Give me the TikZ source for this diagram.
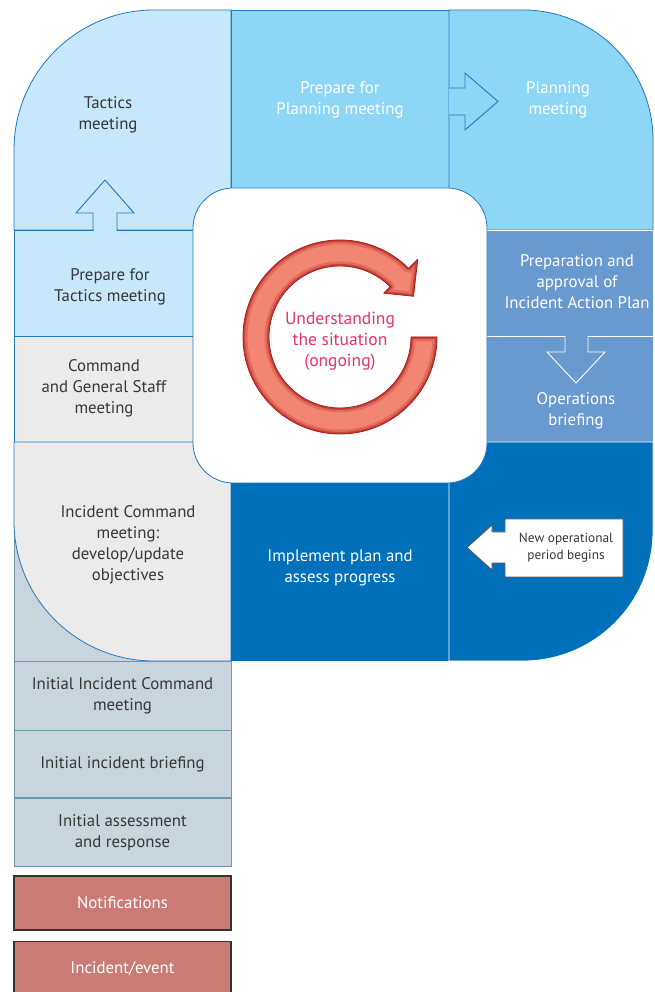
\documentclass[tikz,border=0pt]{standalone}
\usepackage{fontspec}
\setmainfont{PT Sans}
\usepackage{xcolor}
\usepackage{tikz}
\usetikzlibrary{positioning, calc}
\definecolor{edgeblue}{RGB}{35,120,190}
\definecolor{paleblue}{RGB}{198,232,250}
\definecolor{skyblue}{RGB}{142,214,246}
\definecolor{midblue}{RGB}{104,154,208}
\definecolor{deepblue}{RGB}{0,112,186}
\definecolor{lightgrey}{RGB}{235,235,235}
\definecolor{slategrey}{RGB}{200,213,220}
\definecolor{slateedge}{RGB}{110,150,170}
\definecolor{brick}{RGB}{202,123,115}
\definecolor{ringfill}{RGB}{242,134,114}
\definecolor{ringedge}{RGB}{175,30,30}
\definecolor{ringtext}{RGB}{232,52,102}
\definecolor{darktext}{RGB}{55,55,55}
\tikzstyle{darklabel} = [align=center, text=darktext, font=\fontsize{16.8}{21}\selectfont]
\tikzstyle{lightlabel} = [darklabel, text=white]
\tikzstyle{region} = [draw=edgeblue, line width=0.8pt]
\tikzstyle{initbox} = [rectangle, minimum width=217pt, text centered, draw=slateedge, fill=slategrey, line width=0.8pt, darklabel]
\tikzstyle{startstop} = [rectangle, minimum width=217pt, text centered, draw=black!80, fill=brick, line width=1.2pt, lightlabel]
\tikzstyle{blockarrow} = [line width=0.9pt, line join=miter]

\begin{document}
\begin{tikzpicture}[x=1pt, y=1pt]
\useasboundingbox (0,0) rectangle (654,992);

% lower column behind the rounded corner
\fill[slategrey] (14,331) rectangle (231,472);
\draw[slateedge, line width=0.8pt] (14,331) -- (14,472) (231,331) -- (231,472);

% the P: top row
\draw[region, fill=paleblue] (14,762) -- (14,842) arc[start angle=180, end angle=90, radius=140pt] -- (231,982) -- (231,762) -- cycle;
\draw[region, fill=skyblue] (231,762) rectangle (449,982);
\draw[region, fill=skyblue] (449,762) -- (449,982) -- (523,982) arc[start angle=90, end angle=0, radius=130pt] -- (653,762) -- cycle;
% middle rows
\draw[region, fill=paleblue] (14,656) rectangle (231,762);
\draw[region, fill=lightgrey] (14,550) rectangle (231,656);
\draw[draw=white, line width=0.8pt, fill=midblue] (449,656) rectangle (653,762);
\draw[draw=white, line width=0.8pt, fill=midblue] (449,550) rectangle (653,656);
% bottom row
\draw[region, fill=lightgrey] (14,550) -- (14,471) arc[start angle=180, end angle=270, radius=140pt] -- (231,331) -- (231,550) -- cycle;
\fill[deepblue] (231,331) rectangle (449,550);
\draw[draw=white, line width=0.8pt, fill=deepblue] (449,550) -- (449,331) -- (523,331) arc[start angle=270, end angle=360, radius=130pt] -- (653,550) -- cycle;

% centre
\draw[region, fill=white, rounded corners=40pt] (193,509) rectangle (487,804);

% block arrows on the dividing lines
\fill[paleblue] (93.5,760) -- (93.5,779) -- (105,800) -- (116.5,779) -- (116.5,760) -- cycle;
\draw[blockarrow, edgeblue] (93,762) -- (93,779) -- (76,779) -- (105,812) -- (134,779) -- (117,779) -- (117,762);
\draw[blockarrow, edgeblue, fill=skyblue] (449,904) -- (465,904) -- (465,919) -- (498,890.5) -- (465,862) -- (465,877) -- (449,877);
\draw[blockarrow, white, fill=midblue] (565,656) -- (565,640) -- (547,640) -- (576,609) -- (605,640) -- (588,640) -- (588,656);
\draw[blockarrow, black!65, fill=white] (623,473) -- (505,473) -- (505,460) -- (492,460) -- (492,467) -- (467,444.5) -- (492,422) -- (492,429) -- (505,429) -- (505,415) -- (623,415) -- cycle;

% ring arrow, darker towards its edges
\coordinate (ring) at (340,655);
\def\ringpath{($(ring)+(45:110)$) -- ($(ring)+(29:84)$) -- ($(ring)+(45:62)$) -- ($(ring)+(45:71)$)
  arc[start angle=45, end angle=360, radius=71pt] -- ($(ring)+(0:97)$)
  arc[start angle=360, end angle=45, radius=97pt] -- cycle}
\begin{scope}
\clip \ringpath;
\fill[ringfill] \ringpath;
\draw[line width=9pt, ringfill!75!ringedge, line join=round] \ringpath;
\draw[line width=4pt, ringfill!35!ringedge, line join=round] \ringpath;
\end{scope}
\draw[line width=0.8pt, ringedge, line join=round] \ringpath;

% labels
\node (tactics) [darklabel] at (108,877) {Tactics\\meeting};
\node (prepTactics) [darklabel] at (110,705) {Prepare for\\Tactics meeting};
\node (cgs) [darklabel] at (104,604) {Command\\and General Staff\\meeting};
\node (icMeeting) [darklabel] at (128,447) {Incident Command\\meeting:\\develop/update\\objectives};
\node (prepPlanning) [lightlabel] at (340,892) {Prepare for\\Planning meeting};
\node (planning) [lightlabel] at (558,892) {Planning\\meeting};
\node (iap) [lightlabel] at (577,710) {Preparation and\\approval of\\Incident Action Plan};
\node (opsBrief) [lightlabel] at (576,581) {Operations\\briefing};
\node (implement) [lightlabel] at (340,424) {Implement plan and\\assess progress};
\node (newPeriod) [darklabel, font=\fontsize{13.3}{17}\selectfont] at (566,444) {New operational\\period begins};
\node (situation) [darklabel, text=ringtext, font=\fontsize{17.5}{21}\selectfont] at (340,651) {Understanding\\the situation\\(ongoing)};

% start of the incident
\node (initIC) [initbox, minimum height=69pt] at (122.5,296.5) {Initial Incident Command\\meeting};
\node (initBrief) [initbox, minimum height=67pt, below=0pt of initIC] {Initial incident briefing};
\node (initAssess) [initbox, minimum height=68pt, below=0pt of initBrief] {Initial assessment\\and response};
\node (notify) [startstop, minimum height=54pt] at (122.5,89) {Notifications};
\node (incident) [startstop, minimum height=54pt, below=10pt of notify] {Incident/event};
\end{tikzpicture}
\end{document}
